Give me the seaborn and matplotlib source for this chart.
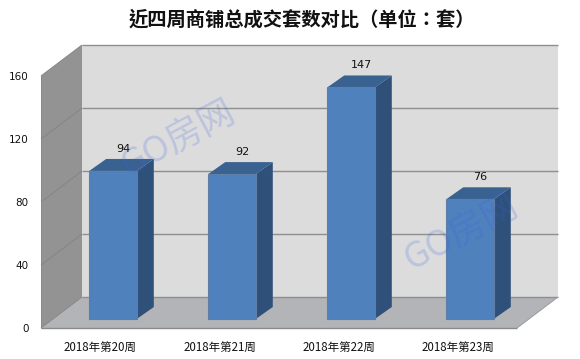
import matplotlib
matplotlib.use("Agg")
import matplotlib.pyplot as plt
from matplotlib.patches import Polygon
from matplotlib.transforms import IdentityTransform, Affine2D
import seaborn as sns
import pandas as pd

weeks = ["2018年第20周", "2018年第21周", "2018年第22周", "2018年第23周"]
counts = [94, 92, 147, 76]
y_ticks = [0, 40, 80, 120, 160]
title = "近四周商铺总成交套数对比（单位：套）"
watermark = "GO房网"

sns.set_theme(style="white")
plt.rcParams["font.family"] = ["Noto Sans CJK SC", "DejaVu Sans"]

W, H = 580, 359
fig = plt.figure(figsize=(W / 100, H / 100), dpi=100, facecolor="white")
ax = fig.add_axes([41 / W, (H - 328) / H, 476 / W, 252 / H])

df = pd.DataFrame({"week": weeks, "count": counts})
sns.barplot(data=df, x="week", y="count", color="#4F81BD", saturation=1, width=0.40,
            edgecolor="#5F7FA6", linewidth=0.8, ax=ax, zorder=4)
ax.set_xlim(-0.5, 3.5)
ax.set_ylim(0, 160)
ax.set_yticks(y_ticks)
ax.set_xlabel("")
ax.set_ylabel("")
ax.patch.set_visible(False)
for s in ax.spines.values():
    s.set_visible(False)
ax.tick_params(axis="y", length=0, pad=9, labelsize=7.5, labelcolor="#111111")
ax.tick_params(axis="x", length=0, pad=9, labelsize=8.3, labelcolor="#111111")
for t in ax.get_yticklabels():
    t.set_family("DejaVu Sans")

WALL_DX, WALL_DY = 41, 31
BAR_OX, BAR_OY = 12.5, 9
BAR_DX, BAR_DY = 17, 12


def pt(x, y, dx=0, dy=0):
    px, py = ax.transData.transform((x, y))
    return (px + dx, py + dy)


def poly(points, color, z, edge="none", lw=0):
    ax.add_patch(Polygon(points, closed=True, facecolor=color, edgecolor=edge, linewidth=lw,
                         transform=IdentityTransform(), clip_on=False, zorder=z))


def line(a, b, color="#8F8F8F", lw=1.0, z=1):
    ax.plot([a[0], b[0]], [a[1], b[1]], color=color, lw=lw, transform=IdentityTransform(),
            clip_on=False, zorder=z, solid_capstyle="butt")


x0, x1 = -0.5, 3.5
ymax = y_ticks[-1]
# back wall, left wall, floor
poly([pt(x0, 0, WALL_DX, WALL_DY), pt(x1, 0, WALL_DX, WALL_DY),
      pt(x1, ymax, WALL_DX, WALL_DY), pt(x0, ymax, WALL_DX, WALL_DY)], "#DCDCDC", 0)
poly([pt(x0, 0), pt(x0, 0, WALL_DX, WALL_DY), pt(x0, ymax, WALL_DX, WALL_DY), pt(x0, ymax)], "#939393", 0)
poly([pt(x0, 0), pt(x1, 0), pt(x1, 0, WALL_DX, WALL_DY), pt(x0, 0, WALL_DX, WALL_DY)], "#B2B4B8", 0.5)
for v in y_ticks:
    line(pt(x0, v, WALL_DX, WALL_DY), pt(x1, v, WALL_DX, WALL_DY), z=1)
    line(pt(x0, v), pt(x0, v, WALL_DX, WALL_DY), color="#858585", lw=0.7, z=1)
line(pt(x0, 0), pt(x1, 0), color="#8A8A8A", lw=1.0, z=1)
line(pt(x1, 0), pt(x1, 0, WALL_DX, WALL_DY), color="#9A9A9A", lw=0.7, z=1)
line(pt(x0, 0), pt(x0, ymax), color="#8A8A8A", lw=0.7, z=1)

# bars: shift the front faces onto the bar plane and add top and side faces
shift = Affine2D().translate(BAR_OX, BAR_OY)
for p, val in zip(ax.patches[:len(counts)], counts):
    p.set_transform(ax.transData + shift)
    p.set_clip_on(False)
    xl, w = p.get_x(), p.get_width()
    xr = xl + w
    poly([pt(xr, 0, BAR_OX, BAR_OY), pt(xr, 0, BAR_OX + BAR_DX, BAR_OY + BAR_DY),
          pt(xr, val, BAR_OX + BAR_DX, BAR_OY + BAR_DY), pt(xr, val, BAR_OX, BAR_OY)], "#2F5179", 3)
    poly([pt(xl, val, BAR_OX, BAR_OY), pt(xr, val, BAR_OX, BAR_OY),
          pt(xr, val, BAR_OX + BAR_DX, BAR_OY + BAR_DY), pt(xl, val, BAR_OX + BAR_DX, BAR_OY + BAR_DY)],
         "#3A6291", 3)
    ax.annotate(str(val), xy=(xl + w / 2, val), xytext=(BAR_OX + 10, BAR_OY + 22),
                textcoords="offset pixels", ha="center", va="center", fontsize=8,
                family="DejaVu Sans", color="#111111", zorder=6, annotation_clip=False)

fig.text(302 / W, 1 - 20 / H, title, ha="center", va="center", fontsize=13.9,
         fontweight="bold", color="#111111", family=["Noto Sans CJK TC", "DejaVu Sans"])

for cx, cy in [(178, 138), (461, 232)]:
    fig.text(cx / W, 1 - cy / H, watermark, ha="center", va="center", fontsize=26, rotation=28,
             rotation_mode="anchor", color="#3A60E0", alpha=0.2, zorder=10)

fig.savefig("out.png", dpi=100, facecolor="white")
